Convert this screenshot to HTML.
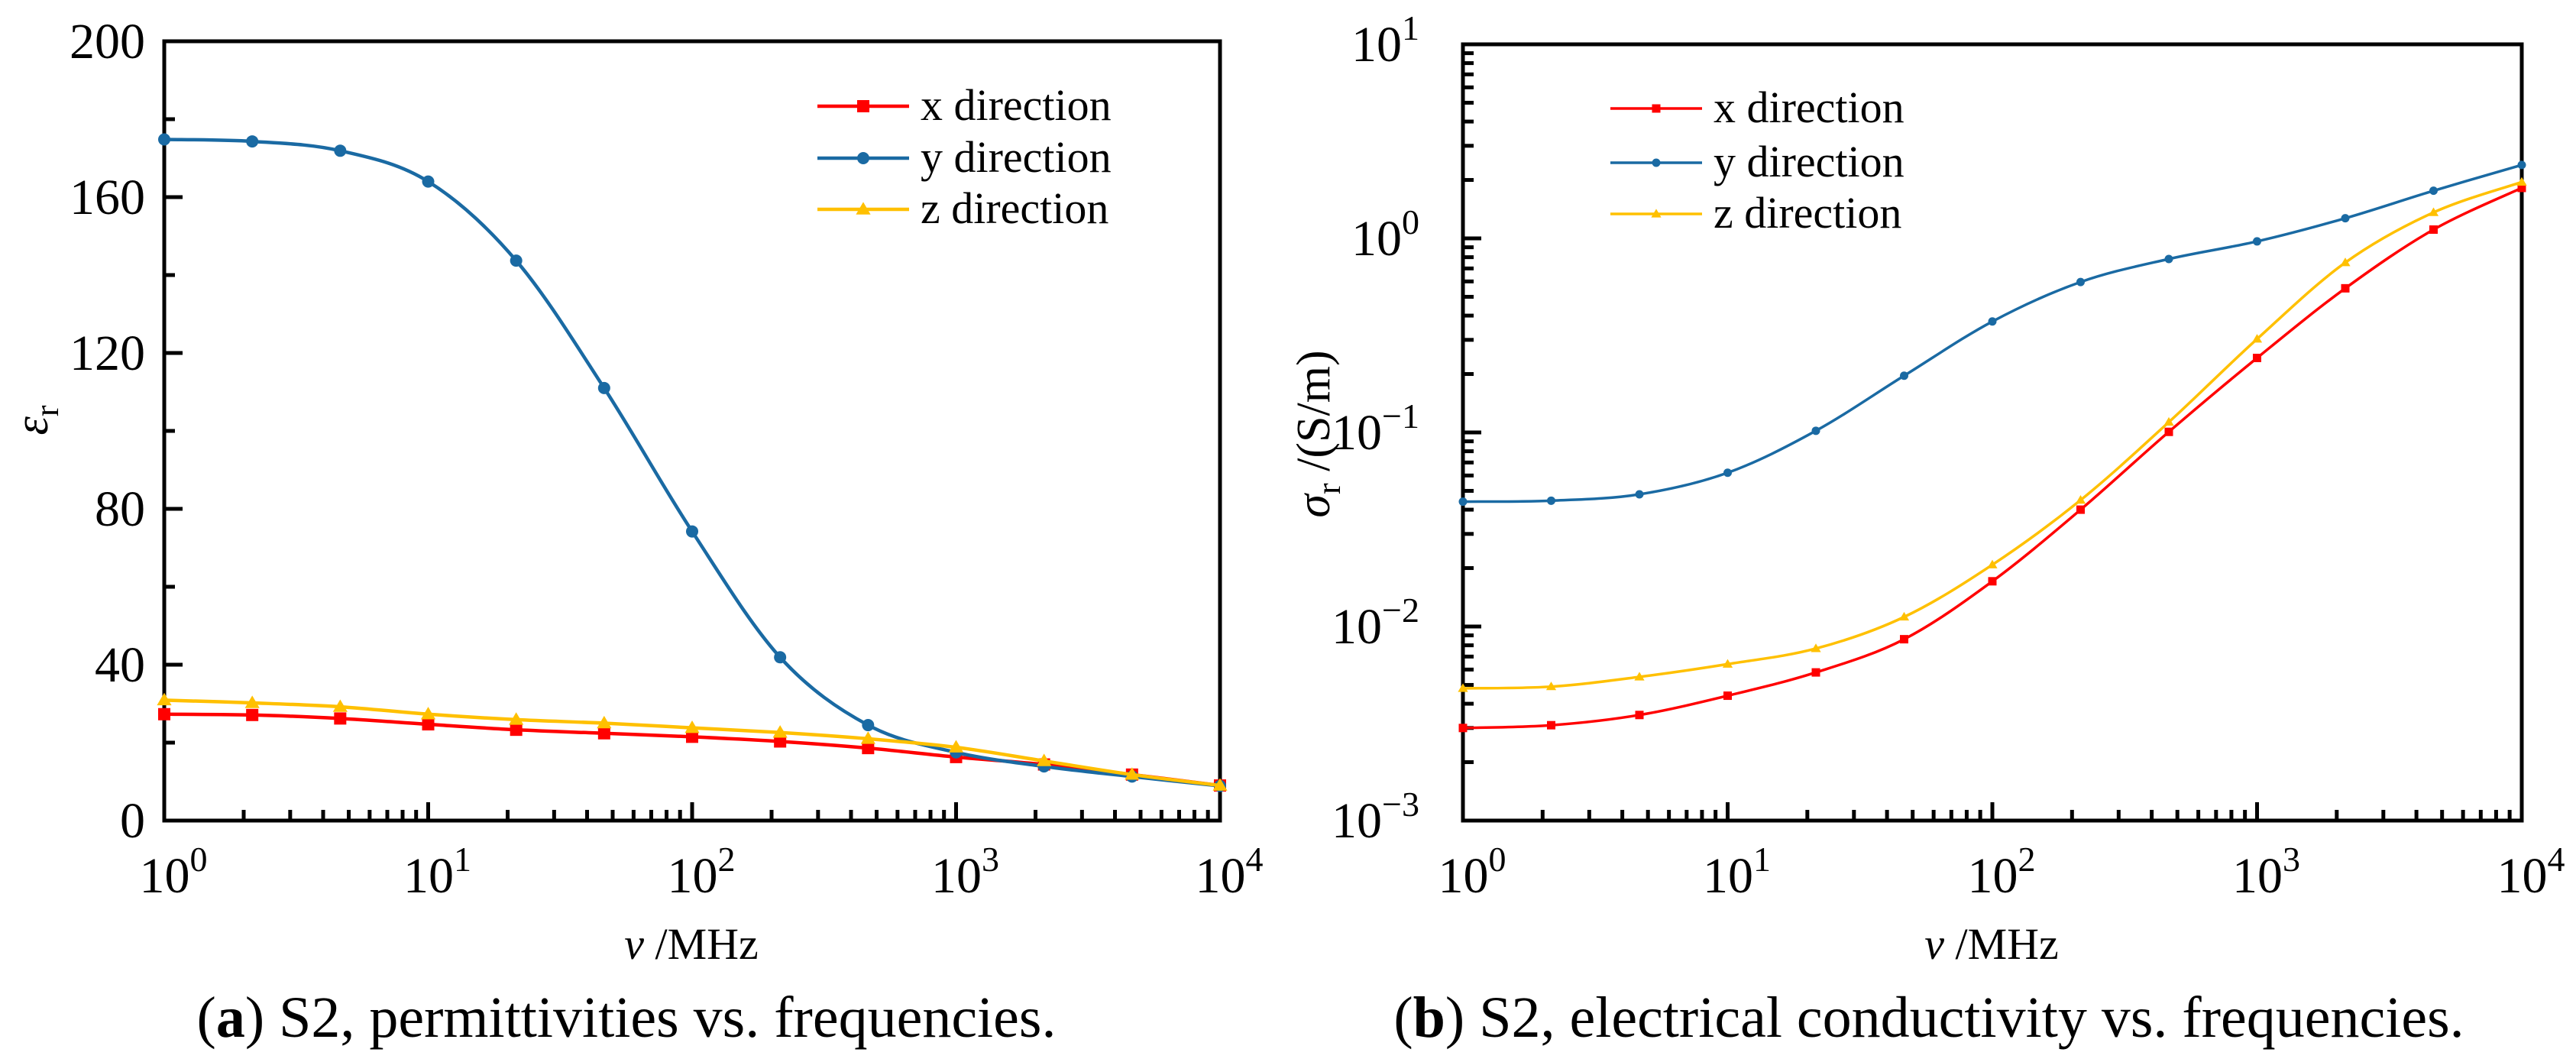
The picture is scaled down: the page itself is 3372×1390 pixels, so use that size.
<!DOCTYPE html>
<html><head><meta charset="utf-8"><style>
html,body{margin:0;padding:0;background:#fff;}
svg{display:block;}
text{font-family:"Liberation Serif",serif;fill:#000;}
</style></head><body>
<svg id="root" width="3372" height="1390" viewBox="0 0 3372 1390" xmlns="http://www.w3.org/2000/svg"></svg>
<script>
const freqExp = [0,1/3,2/3,1,4/3,5/3,2,7/3,8/3,3,10/3,11/3,4];
const permX = [27.3,27.1,26.2,24.7,23.3,22.4,21.5,20.3,18.6,16.3,14.4,11.8,9.0];
const permY = [174.8,174.3,171.9,164,143.7,111,74.2,41.9,24.5,17.5,13.9,11.3,8.9];
const permZ = [30.9,30.2,29.2,27.3,25.9,25.0,23.8,22.6,21.0,18.8,15.3,11.8,9.0];
const condX = [0.0030,0.0031,0.0035,0.0044,0.0058,0.0086,0.0171,0.040,0.1007,0.242,0.553,1.11,1.82];
const condY = [0.044,0.0445,0.048,0.062,0.102,0.196,0.373,0.596,0.783,0.965,1.27,1.76,2.39];
const condZ = [0.0048,0.0049,0.0055,0.0064,0.0077,0.0112,0.0208,0.0448,0.113,0.303,0.75,1.36,1.95];
const permTicks = [0,40,80,120,160,200];
const condTickExp = [-3,-2,-1,0,1];
const xTickExp = [0,1,2,3,4];
const seriesNames = ['x direction','y direction','z direction'];
const colors = ['#ff0000','#1a6aa3','#ffc000'];

const NS='http://www.w3.org/2000/svg';
const root=document.getElementById('root');
function mk(tag,attrs,parent){const e=document.createElementNS(NS,tag);for(const k in attrs)e.setAttribute(k,attrs[k]);(parent||root).appendChild(e);return e;}
function smooth(pts){let d='M'+pts[0][0]+','+pts[0][1];for(let i=0;i<pts.length-1;i++){const p0=pts[i-1]||pts[i],p1=pts[i],p2=pts[i+1],p3=pts[i+2]||p2;
const c1=[p1[0]+(p2[0]-p0[0])/6,p1[1]+(p2[1]-p0[1])/6],c2=[p2[0]-(p3[0]-p1[0])/6,p2[1]-(p3[1]-p1[1])/6];
d+=' C'+c1[0]+','+c1[1]+' '+c2[0]+','+c2[1]+' '+p2[0]+','+p2[1];}return d;}
function marker(g,kind,x,y,s,c){
 if(kind===0){const e=mk('rect',{x:x-s/2,y:y-s/2,width:s,height:s,fill:c},g);}
 else if(kind===1){const e=mk('circle',{cx:x,cy:y,r:s/2,fill:c},g);}
 else {const h=s*0.6;const e=mk('polygon',{points:(x)+','+(y-h)+' '+(x-h)+','+(y+h*0.7)+' '+(x+h)+','+(y+h*0.7),fill:c},g);}
}
function drawPanel(P){
 const g=mk('g',{});
 
 
 const L=P.L,R=P.R,T=P.T,B=P.B;
 const xs=e=>L+(e-0)/4*(R-L);
 const ys=P.ys;
 for(let d=0;d<4;d++){for(let m=1;m<10;m++){const x=xs(d+Math.log10(m));const len=m===1?24:14;
   const t=mk('line',{x1:x,y1:B,x2:x,y2:B-len,stroke:'#000','stroke-width':5},g);}}
 xTickExp.forEach(e=>{const x=xs(e);const t=mk('text',{x:x+12,y:P.xlabY,'text-anchor':'middle','font-size':66},g);
   
   t.textContent='10';const s=mk('tspan',{dy:-28,'font-size':46},t);s.textContent=String(e);});
 P.yTicks(g);
 const fr=mk('rect',{x:L,y:T,width:R-L,height:B-T,fill:'none',stroke:'#000','stroke-width':5},g);
 
 P.series.forEach((vals,si)=>{const sg=mk('g',{},g);
   const pts=vals.map((v,i)=>[xs(freqExp[i]),ys(v)]);
   mk('path',{d:smooth(pts),fill:'none',stroke:colors[si],'stroke-width':P.lw},sg);
   pts.forEach(p=>marker(sg,si,p[0],p[1],P.ms,colors[si]));});
 const lg=mk('g',{},g);
 seriesNames.forEach((n,i)=>{const y=P.legY[i];const eg=mk('g',{},lg);
   mk('line',{x1:P.legX,y1:y,x2:P.legX+120,y2:y,stroke:colors[i],'stroke-width':P.lw},eg);
   marker(eg,i,P.legX+60,y,P.ms,colors[i]);
   const t=mk('text',{x:P.legX+135,y:y+18,'font-size':58},eg);t.textContent=n;});
 const xt=mk('text',{x:P.xtX,y:1255,'text-anchor':'middle','font-size':58},g);
 
 const vi=mk('tspan',{'font-style':'italic'},xt);vi.textContent='v';const vm=mk('tspan',{},xt);vm.textContent=' /MHz';
 P.yTitle(g);
 const cap=mk('text',{x:P.capX,y:1357,'text-anchor':'middle','font-size':76},g);
 
 const cb=mk('tspan',{},cap);cb.textContent='(';const cb2=mk('tspan',{'font-weight':'bold'},cap);cb2.textContent=P.capLetter;const cb3=mk('tspan',{},cap);cb3.textContent=') '+P.capText;
}
const LB={L:215,R:1597,T:54,B:1074};
drawPanel(Object.assign({},LB,{name:'permittivity-chart',lw:4.5,ms:16,series:[permX,permY,permZ],
 ys:v=>LB.B-(v/200)*(LB.B-LB.T), xlabY:1168, legX:1070, legY:[139,207,274], xtX:905, capX:820, capLetter:'a', capText:'S2, permittivities vs. frequencies.',
 yTicks:function(g){const ys=v=>LB.B-(v/200)*(LB.B-LB.T);
  for(let v=0;v<=200;v+=20){const y=ys(v);const t=mk('line',{x1:LB.L,y1:y,x2:LB.L+(v%40===0?24:14),y2:y,stroke:'#000','stroke-width':5},g);}
  permTicks.forEach(v=>{const t=mk('text',{x:190,y:ys(v)+22,'text-anchor':'end','font-size':66},g);t.textContent=String(v);});},
 yTitle:function(g){const t=mk('text',{x:0,y:0,'text-anchor':'middle','font-size':62,transform:'translate(62,550) rotate(-90)'},g);
  
  const a=mk('tspan',{'font-style':'italic'},t);a.textContent='ε';const b=mk('tspan',{dy:14,'font-size':44},t);b.textContent='r';}
}));
const RB={L:1915,R:3301,T:58,B:1074};
const ysR=v=>RB.B-((Math.log10(v)+3)/4)*(RB.B-RB.T);
drawPanel(Object.assign({},RB,{name:'conductivity-chart',lw:3.5,ms:11,series:[condX,condY,condZ],
 ys:ysR, xlabY:1168, legX:2108, legY:[142,213,280], xtX:2607, capX:2525, capLetter:'b', capText:'S2, electrical conductivity vs. frequencies.',
 yTicks:function(g){for(let d=-3;d<1;d++){for(let m=1;m<10;m++){const y=ysR(Math.pow(10,d)*m);const t=mk('line',{x1:RB.L,y1:y,x2:RB.L+(m===1?24:14),y2:y,stroke:'#000','stroke-width':5},g);}}
  condTickExp.forEach(e=>{const t=mk('text',{x:1858,y:ysR(Math.pow(10,e))+22,'text-anchor':'end','font-size':66},g);
   t.textContent='10';const s=mk('tspan',{dy:-28,'font-size':46},t);s.textContent=(e<0?'\u2212':'')+Math.abs(e);});},
 yTitle:function(g){const t=mk('text',{x:0,y:0,'text-anchor':'middle','font-size':62,transform:'translate(1740,568) rotate(-90)'},g);
  
  const a=mk('tspan',{'font-style':'italic'},t);a.textContent='σ';const b=mk('tspan',{dy:14,'font-size':44},t);b.textContent='r';const c=mk('tspan',{dy:-14},t);c.textContent=' /(S/m)';}
}));
</script>
</body></html>
